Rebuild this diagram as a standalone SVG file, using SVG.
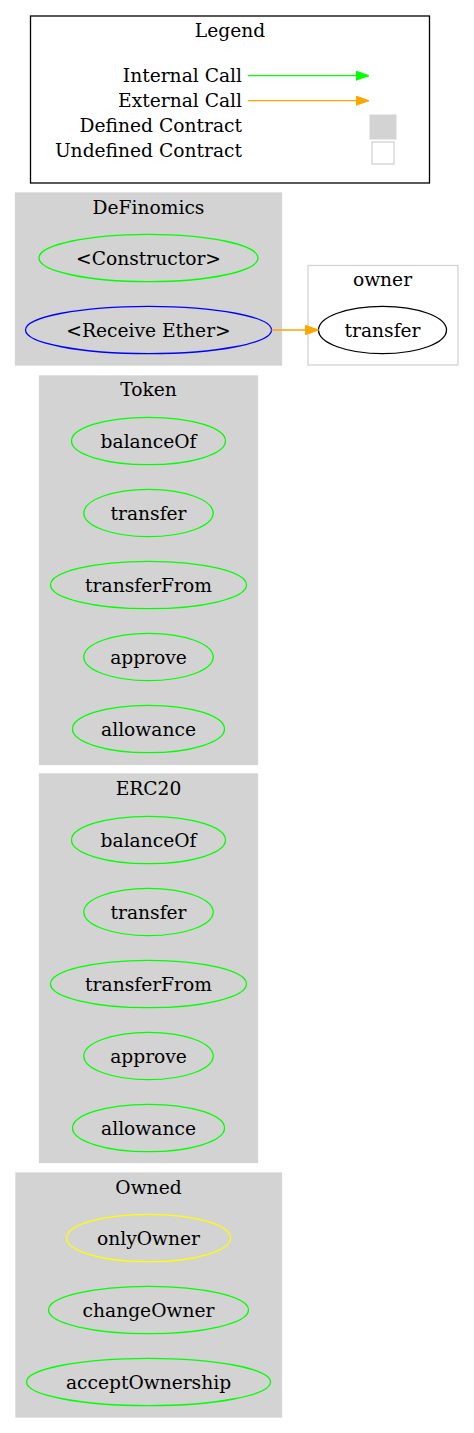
<svg xmlns="http://www.w3.org/2000/svg" width="474" height="1433" viewBox="0 0 474 1433">
<style>
text{font-family:"DejaVu Serif","Liberation Serif",serif;font-size:18.67px;fill:#000}
.c{text-anchor:middle}
.r{text-anchor:end}
.cl{fill:#d3d3d3;stroke:#d3d3d3;stroke-width:1.3}
.ucl{fill:#fff;stroke:#d3d3d3;stroke-width:1.3}
.n{fill:none;stroke-width:1.3}
.g{stroke:#00ff00}
.b{stroke:#0000ff}
.y{stroke:#ffff00}
.k{stroke:#000}
.e{fill:none;stroke-width:1.3}
</style>
<defs>
<marker id="ag" markerWidth="14" markerHeight="10" refX="13.3" refY="4.7" orient="auto" markerUnits="userSpaceOnUse"><path d="M0,0 L13.3,4.7 L0,9.4 Z" fill="#00ff00" stroke="#00ff00"/></marker>
<marker id="ao" markerWidth="14" markerHeight="10" refX="13.3" refY="4.7" orient="auto" markerUnits="userSpaceOnUse"><path d="M0,0 L13.3,4.7 L0,9.4 Z" fill="#ffa500" stroke="#ffa500"/></marker>
</defs>
<rect width="474" height="1433" fill="#fff"/>
<g id="legend">
<rect x="30.5" y="16" width="399" height="167" fill="#fff" stroke="#000" stroke-width="1.3"/>
<text class="c" x="230" y="36.5">Legend</text>
<text class="r" x="242" y="81.5">Internal Call</text>
<text class="r" x="242" y="106.5">External Call</text>
<text class="r" x="242" y="131.5">Defined Contract</text>
<text class="r" x="242" y="156.5">Undefined Contract</text>
<line x1="248" y1="75.7" x2="369" y2="75.7" stroke="#00ff00" stroke-width="1.3" marker-end="url(#ag)"/>
<line x1="248" y1="100.7" x2="369" y2="100.7" stroke="#ffa500" stroke-width="1.3" marker-end="url(#ao)"/>
<rect x="370" y="115" width="26" height="24" fill="#d3d3d3" stroke="#d3d3d3"/>
<rect x="372" y="142" width="22" height="22" fill="#fff" stroke="#d3d3d3" stroke-width="1.3"/>
</g>
<g id="cluster_DeFinomics">
<rect class="cl" x="15.5" y="193" width="266" height="172"/>
<text class="c" x="148.5" y="214">DeFinomics</text>
</g>
<g id="DeFinomics_constructor">
<ellipse class="n g" cx="148.5" cy="258" rx="109.5" ry="23.7"/>
<text class="c" x="148.5" y="264.5">&lt;Constructor&gt;</text>
</g>
<g id="DeFinomics_receive">
<ellipse class="n b" cx="148.5" cy="330" rx="123" ry="23.7"/>
<text class="c" x="148.5" y="336.5">&lt;Receive Ether&gt;</text>
</g>
<g id="cluster_owner">
<rect class="ucl" x="308" y="265.5" width="150" height="99.5"/>
<text class="c" x="382.5" y="285.7">owner</text>
</g>
<g id="owner_transfer">
<ellipse class="n k" cx="382.5" cy="330" rx="64" ry="23.7"/>
<text class="c" x="382.5" y="336.5">transfer</text>
</g>
<g id="cluster_Token">
<rect class="cl" x="39.5" y="376" width="218" height="388.5"/>
<text class="c" x="148.5" y="396">Token</text>
</g>
<g id="Token_balanceOf"><ellipse class="n g" cx="148.5" cy="441" rx="77" ry="23.7"/><text class="c" x="148.5" y="447.5">balanceOf</text></g>
<g id="Token_transfer"><ellipse class="n g" cx="148.5" cy="513" rx="64.7" ry="23.7"/><text class="c" x="148.5" y="519.5">transfer</text></g>
<g id="Token_transferFrom"><ellipse class="n g" cx="148.5" cy="585" rx="98" ry="23.7"/><text class="c" x="148.5" y="591.5">transferFrom</text></g>
<g id="Token_approve"><ellipse class="n g" cx="148.5" cy="657" rx="64.7" ry="23.7"/><text class="c" x="148.5" y="663.5">approve</text></g>
<g id="Token_allowance"><ellipse class="n g" cx="148.5" cy="729" rx="76" ry="23.7"/><text class="c" x="148.5" y="735.5">allowance</text></g>
<g id="cluster_ERC20">
<rect class="cl" x="39.5" y="774" width="218" height="388.5"/>
<text class="c" x="148.5" y="795">ERC20</text>
</g>
<g id="ERC20_balanceOf"><ellipse class="n g" cx="148.5" cy="840" rx="77" ry="23.7"/><text class="c" x="148.5" y="846.5">balanceOf</text></g>
<g id="ERC20_transfer"><ellipse class="n g" cx="148.5" cy="912" rx="64.7" ry="23.7"/><text class="c" x="148.5" y="918.5">transfer</text></g>
<g id="ERC20_transferFrom"><ellipse class="n g" cx="148.5" cy="984" rx="98" ry="23.7"/><text class="c" x="148.5" y="990.5">transferFrom</text></g>
<g id="ERC20_approve"><ellipse class="n g" cx="148.5" cy="1056" rx="64.7" ry="23.7"/><text class="c" x="148.5" y="1062.5">approve</text></g>
<g id="ERC20_allowance"><ellipse class="n g" cx="148.5" cy="1128" rx="76" ry="23.7"/><text class="c" x="148.5" y="1134.5">allowance</text></g>
<g id="cluster_Owned">
<rect class="cl" x="16" y="1173" width="265.5" height="244"/>
<text class="c" x="148.5" y="1193.5">Owned</text>
</g>
<g id="Owned_onlyOwner"><ellipse class="n y" cx="148.5" cy="1238" rx="82" ry="23.7"/><text class="c" x="148.5" y="1244.5">onlyOwner</text></g>
<g id="Owned_changeOwner"><ellipse class="n g" cx="148.5" cy="1310" rx="100" ry="23.7"/><text class="c" x="148.5" y="1316.5">changeOwner</text></g>
<g id="Owned_acceptOwnership"><ellipse class="n g" cx="148.5" cy="1382" rx="122" ry="23.7"/><text class="c" x="148.5" y="1388.5">acceptOwnership</text></g>
<g id="edges">
<line class="e" x1="271.5" y1="330" x2="318.5" y2="330" stroke="#ffa500" marker-end="url(#ao)"/>
</g>
</svg>
